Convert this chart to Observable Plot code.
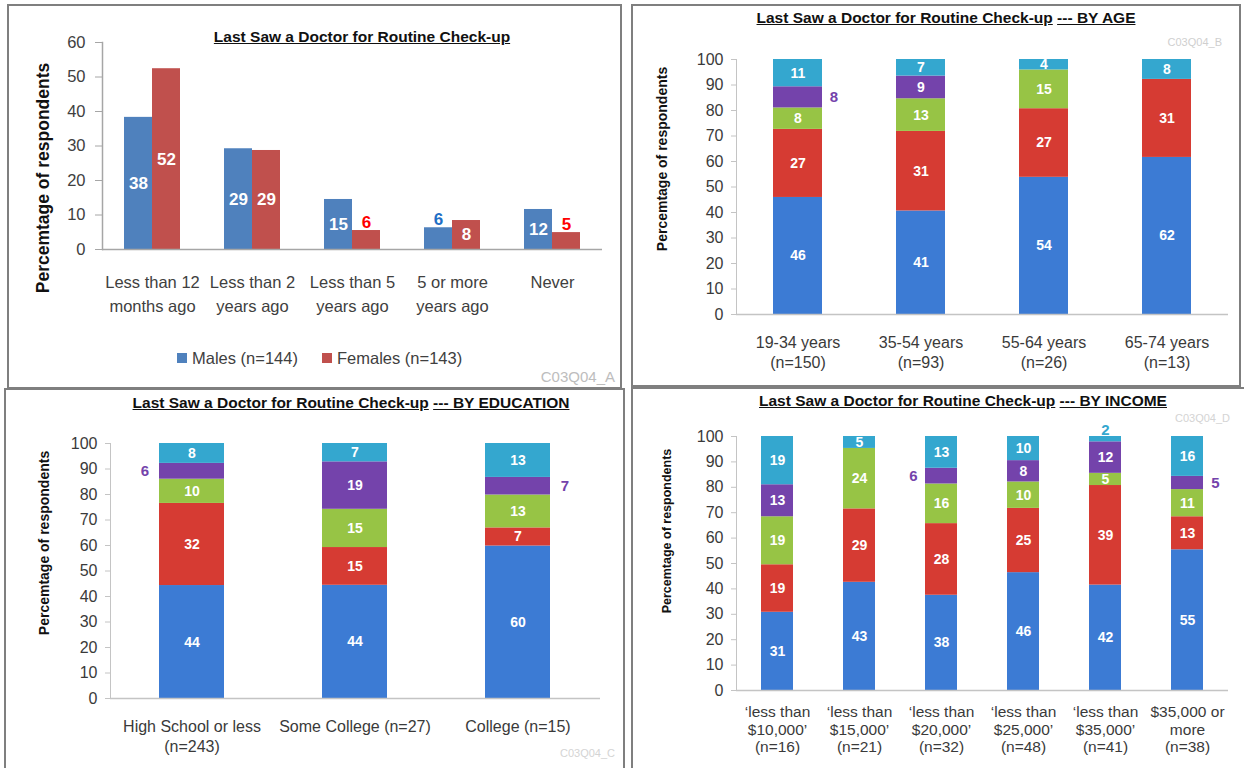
<!DOCTYPE html>
<html>
<head>
<meta charset="utf-8">
<script src="https://cdn.jsdelivr.net/npm/d3@7"></script>
<script src="https://cdn.jsdelivr.net/npm/@observablehq/plot@0.6"></script>
<style>
  html, body { margin: 0; padding: 0; background: #fff; }
  body { width: 1244px; height: 768px; position: relative; overflow: hidden; font-family: "Liberation Sans", Arial, sans-serif; color: #404040; }
  .box { position: absolute; border: 2px solid #7f7f7f; box-sizing: border-box; z-index: 5; pointer-events: none; }
  .wrap { position: absolute; }
  .title { position: absolute; font-weight: bold; color: #111; white-space: nowrap; transform: translate(-50%, -50%); }
  .ylab { position: absolute; font-weight: bold; color: #111; white-space: nowrap; transform: translate(-50%, -50%) rotate(-90deg); }
  .cap { position: absolute; white-space: nowrap; transform: translate(-100%, -50%); }
  .sw { position: absolute; width: 10px; height: 10px; }
  .lt { position: absolute; white-space: nowrap; transform: translateY(-50%); font-size: 16.5px; color: #404040; }
</style>
</head>
<body>
<script>
// ---------------- DATA ----------------
// Panel A: by gender
const timeCats = ["Less than 12 months ago", "Less than 2 years ago", "Less than 5 years ago", "5 or more years ago", "Never"];
const timeTickLabels = ["Less than 12\nmonths ago", "Less than 2\nyears ago", "Less than 5\nyears ago", "5 or more\nyears ago", "Never"];
const genderSeries = ["Males (n=144)", "Females (n=143)"];
const malesPct = [38.3, 29.2, 14.5, 6.3, 11.6];
const femalesPct = [52.4, 28.7, 5.5, 8.4, 4.9];
const yTicksA = [0, 10, 20, 30, 40, 50, 60];

// Stacked series (bottom to top)
const stackSeries = timeCats;
const yTicksPct = [0, 10, 20, 30, 40, 50, 60, 70, 80, 90, 100];

// Panel B: by age
const ageGroups = ["19-34 years", "35-54 years", "55-64 years", "65-74 years"];
const ageTickLabels = ["19-34 years\n(n=150)", "35-54 years\n(n=93)", "55-64 years\n(n=26)", "65-74 years\n(n=13)"];
const ageLess12m = [45.9, 40.6, 53.8, 61.6];
const ageLess2y  = [26.7, 31.2, 26.9, 30.6];
const ageLess5y  = [8.4, 12.8, 15.2, 0];
const age5plus   = [8.3, 8.9, 0, 0];
const ageNever   = [10.7, 6.5, 4.1, 7.8];
const ageOutside = [["19-34 years", "5 or more years ago", "right"]];

// Panel C: by education
const eduGroups = ["High School or less", "Some College", "College"];
const eduTickLabels = ["High School or less\n(n=243)", "Some College (n=27)", "College (n=15)"];
const eduLess12m = [44.3, 44.4, 59.8];
const eduLess2y  = [32.2, 14.8, 7.1];
const eduLess5y  = [9.5, 15.0, 12.9];
const edu5plus   = [6.2, 18.6, 6.9];
const eduNever   = [7.8, 7.2, 13.3];
const eduOutside = [["High School or less", "5 or more years ago", "left"], ["College", "5 or more years ago", "right"]];

// Panel D: by income
const incGroups = ["<$10,000", "<$15,000", "<$20,000", "<$25,000", "<$35,000", "$35,000+"];
const incTickLabels = ["\u2018less than\n$10,000\u2019\n(n=16)", "\u2018less than\n$15,000\u2019\n(n=21)", "\u2018less than\n$20,000\u2019\n(n=32)", "\u2018less than\n$25,000\u2019\n(n=48)", "\u2018less than\n$35,000\u2019\n(n=41)", "$35,000 or\nmore\n(n=38)"];
const incLess12m = [30.8, 42.6, 37.5, 46.4, 41.5, 55.4];
const incLess2y  = [18.7, 28.9, 28.2, 25.3, 39.2, 13.0];
const incLess5y  = [18.9, 23.8, 15.6, 10.4, 4.8, 10.7];
const inc5plus   = [12.6, 0, 6.2, 8.4, 12.4, 5.2];
const incNever   = [19.0, 4.7, 12.5, 9.5, 2.1, 15.7];
const incOutside = [["<$20,000", "5 or more years ago", "left"], ["$35,000+", "5 or more years ago", "right"], ["<$35,000", "Never", "top"]];

// ---------------- STYLE ----------------
const FONT = '"Liberation Sans", Arial, sans-serif';
const genderColors = ["#4F81BD", "#C0504D"];
const genderLabelColors = ["#1F6FC5", "#FF0000"];
const stackColors = ["#3C7BD4", "#D63B33", "#97C445", "#7443AB", "#34A7CF"];

function place(node, left, top) {
  const w = document.createElement("div");
  w.className = "wrap";
  w.style.left = left + "px";
  w.style.top = top + "px";
  w.appendChild(node);
  document.body.appendChild(w);
}
function addDiv(cls, html, x, y, css) {
  const d = document.createElement("div");
  d.className = cls;
  d.innerHTML = html;
  d.style.left = x + "px";
  d.style.top = y + "px";
  Object.assign(d.style, css || {});
  document.body.appendChild(d);
  return d;
}
function box(l, t, w, h) {
  const d = document.createElement("div");
  d.className = "box";
  Object.assign(d.style, {left: l + "px", top: t + "px", width: w + "px", height: h + "px"});
  document.body.appendChild(d);
}

// ---------------- PANEL A ----------------
const genderRows = timeCats.flatMap((c, i) => [
  {cat: c, series: genderSeries[0], value: malesPct[i]},
  {cat: c, series: genderSeries[1], value: femalesPct[i]}
]);
const males = genderRows.filter(d => d.series === genderSeries[0]);
const females = genderRows.filter(d => d.series === genderSeries[1]);
const SMALL = 7;

function genderLabels(rows, dx, outColor) {
  return [
    Plot.text(rows.filter(d => d.value >= SMALL), {x: "cat", y: d => d.value / 2, text: d => Math.round(d.value), dx, fill: "white", fontWeight: "bold", fontSize: 17}),
    Plot.text(rows.filter(d => d.value < SMALL), {x: "cat", y: "value", text: d => Math.round(d.value), dx, dy: -3, lineAnchor: "bottom", fill: outColor, fontWeight: "bold", fontSize: 17})
  ];
}

const plotA = Plot.plot({
  width: 612, height: 380,
  marginLeft: 94, marginRight: 18, marginTop: 36, marginBottom: 137,
  x: {domain: timeCats, padding: 0},
  y: {domain: [0, 60]},
  style: {fontFamily: FONT, fontSize: "16.5px", color: "#404040", background: "transparent", overflow: "visible"},
  marks: [
    Plot.barY(males, {x: "cat", y: "value", fill: genderColors[0], insetLeft: 22, insetRight: 50}),
    Plot.barY(females, {x: "cat", y: "value", fill: genderColors[1], insetLeft: 50, insetRight: 22}),
    Plot.ruleY([0], {stroke: "#a6a6a6", strokeWidth: 1.5}),
    Plot.frame({anchor: "left", stroke: "#a6a6a6", strokeWidth: 1.5}),
    Plot.axisY({ticks: yTicksA, tickSize: 7, tickPadding: 10, stroke: "#a6a6a6", fill: "#404040", fontSize: 16.5, label: null}),
    Plot.axisX({tickSize: 0, tickPadding: 22, lineHeight: 1.45, fontSize: 16.5, fill: "#404040", tickFormat: d => timeTickLabels[timeCats.indexOf(d)], label: null}),
    ...genderLabels(males, -14, genderLabelColors[0]),
    ...genderLabels(females, 14, genderLabelColors[1])
  ]
});
place(plotA, 8, 6);
addDiv("title", "<u>Last Saw a Doctor for Routine Check-up</u>", 362, 37, {fontSize: "15.5px"});
addDiv("ylab", "Percemtage of respondents", 43, 178, {fontSize: "17.5px"});
addDiv("sw", "", 177, 353, {background: genderColors[0]});
addDiv("lt", genderSeries[0], 192, 358);
addDiv("sw", "", 322, 353, {background: genderColors[1]});
addDiv("lt", genderSeries[1], 337, 358);
addDiv("cap", "C03Q04_A", 615, 376, {fontSize: "15px", color: "#bdbdbd"});

// ---------------- STACKED PANELS ----------------
function stackedPanel(cfg) {
  const rows = [];
  cfg.groups.forEach((g, i) => stackSeries.forEach((s, j) => {
    const v = cfg.values[j][i];
    rows.push({group: g, series: s, value: v, label: Math.round(v)});
  }));
  const side = d => { const o = cfg.outside.find(o => o[0] === d.group && o[1] === d.series); return o ? o[2] : null; };
  const st = extra => Plot.stackY({x: "group", y: "value", z: "series", ...extra});
  return Plot.plot({
    width: cfg.width, height: cfg.height,
    marginLeft: cfg.ml, marginRight: cfg.mr, marginTop: cfg.mt, marginBottom: cfg.mb,
    x: {domain: cfg.groups, paddingInner: cfg.padInner, paddingOuter: cfg.padInner / 2},
    y: {domain: [0, 100]},
    color: {domain: stackSeries, range: stackColors},
    style: {fontFamily: FONT, fontSize: cfg.tickSize + "px", color: "#404040", background: "transparent", overflow: "visible"},
    marks: [
      Plot.barY(rows, {x: "group", y: "value", fill: "series"}),
      Plot.ruleY([0], {stroke: "#c4c4c4", strokeWidth: 1.5}),
      Plot.frame({anchor: "left", stroke: "#c4c4c4"}),
      Plot.axisY({ticks: yTicksPct, tickSize: 5, tickPadding: 8, stroke: "#c4c4c4", fill: "#3a3a3a", fontSize: cfg.tickSize, label: null}),
      Plot.axisX({tickSize: 0, tickPadding: cfg.xPad, lineHeight: cfg.lineHeight, fontSize: cfg.xFont, fill: "#3a3a3a", tickFormat: d => cfg.tickLabels[cfg.groups.indexOf(d)], label: null}),
      Plot.text(rows, st({text: d => (!side(d) && d.value > 0) ? d.label : "", fill: "white", fontWeight: "bold", fontSize: cfg.labelFont})),
      Plot.text(rows, st({text: d => side(d) === "left" ? d.label : "", fill: "series", dx: -cfg.sideOffset, fontWeight: "bold", fontSize: cfg.labelFont + 1})),
      Plot.text(rows, st({text: d => side(d) === "right" ? d.label : "", fill: "series", dx: cfg.sideOffset, fontWeight: "bold", fontSize: cfg.labelFont + 1})),
      Plot.text(rows, Plot.stackY2({x: "group", y: "value", z: "series", text: d => side(d) === "top" ? d.label : "", fill: "series", lineAnchor: "bottom", dy: -2, fontWeight: "bold", fontSize: cfg.labelFont + 1}))
    ]
  });
}

// Panel B
place(stackedPanel({
  groups: ageGroups, tickLabels: ageTickLabels,
  values: [ageLess12m, ageLess2y, ageLess5y, age5plus, ageNever],
  outside: ageOutside,
  width: 609, height: 380, ml: 105, mr: 12, mt: 54, mb: 71,
  padInner: 0.6, tickSize: 16, xFont: 16, xPad: 19, lineHeight: 1.25, labelFont: 14, sideOffset: 36
}), 631, 5);
addDiv("title", "<u>Last Saw a Doctor for Routine Check-up</u> <u>--- BY AGE</u>", 946, 18, {fontSize: "15.5px"});
addDiv("ylab", "Percemtage of respondents", 662, 159, {fontSize: "14px"});
addDiv("cap", "C03Q04_B", 1222, 42, {fontSize: "11px", color: "#cfcfcf"});

// Panel C
place(stackedPanel({
  groups: eduGroups, tickLabels: eduTickLabels,
  values: [eduLess12m, eduLess2y, eduLess5y, edu5plus, eduNever],
  outside: eduOutside,
  width: 619, height: 378, ml: 105, mr: 24, mt: 53, mb: 70,
  padInner: 0.6, tickSize: 16, xFont: 16, xPad: 19, lineHeight: 1.25, labelFont: 14, sideOffset: 47
}), 5, 390);
addDiv("title", "<u>Last Saw a Doctor for Routine Check-up</u> <u>--- BY EDUCATION</u>", 351, 403, {fontSize: "15.5px"});
addDiv("ylab", "Percemtage of respondents", 44, 543, {fontSize: "14px"});
addDiv("cap", "C03Q04_C", 615, 753, {fontSize: "11px", color: "#d4d4d4"});

// Panel D
place(stackedPanel({
  groups: incGroups, tickLabels: incTickLabels,
  values: [incLess12m, incLess2y, incLess5y, inc5plus, incNever],
  outside: incOutside,
  width: 612, height: 378, ml: 104, mr: 16, mt: 46, mb: 78,
  padInner: 0.61, tickSize: 16, xFont: 15.5, xPad: 14, lineHeight: 1.14, labelFont: 14, sideOffset: 28
}), 632, 390);
addDiv("title", "<u>Last Saw a Doctor for Routine Check-up</u> <u>--- BY INCOME</u>", 963, 401, {fontSize: "15.5px"});
addDiv("ylab", "Percemtage of respondents", 667, 531, {fontSize: "12.5px"});
addDiv("cap", "C03Q04_D", 1230, 418, {fontSize: "11px", color: "#d4d4d4"});

// Panel borders
box(7, 4, 615, 385);
box(631, 4, 610, 383);
box(4, 388, 621, 384);
box(631, 387, 616, 385);
</script>
</body>
</html>
